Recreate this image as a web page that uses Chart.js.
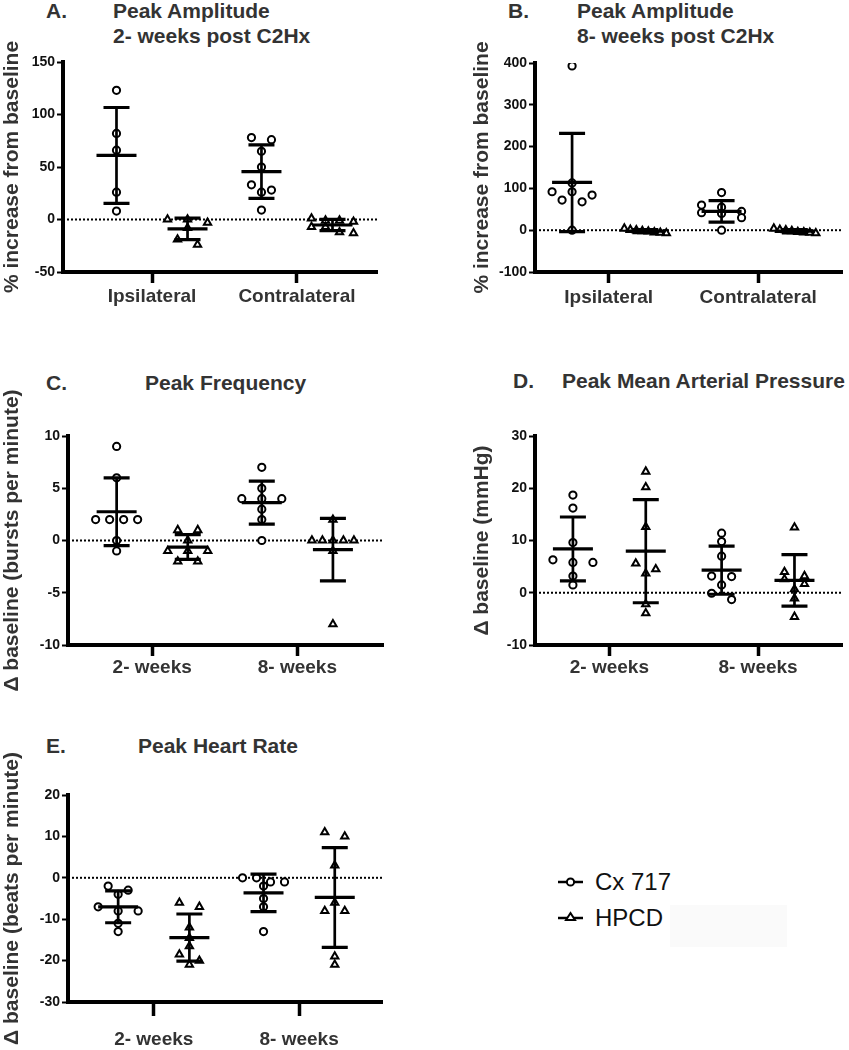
<!DOCTYPE html>
<html>
<head>
<meta charset="utf-8">
<script src="https://cdn.jsdelivr.net/npm/chart.js@4.4.0/dist/chart.umd.min.js"></script>
<style>
body { margin: 0; background: #fff; width: 849px; height: 1050px; position: relative; overflow: hidden;
       font-family: "Liberation Sans", Arial, sans-serif; }
canvas { position: absolute; }
.ttl { position: absolute; font-weight: bold; font-size: 21px; line-height: 1; color: #333; white-space: nowrap; }
.leg { position: absolute; font-size: 24px; line-height: 1; color: #111; white-space: nowrap; }
</style>
</head>
<body>

<div class="ttl" style="left:46px;top:0px">A.</div>
<div class="ttl" style="left:113px;top:0px">Peak Amplitude</div>
<div class="ttl" style="left:113px;top:25px">2- weeks post C2Hx</div>
<div class="ttl" style="left:508px;top:0px">B.</div>
<div class="ttl" style="left:577px;top:0px">Peak Amplitude</div>
<div class="ttl" style="left:577px;top:25px">8- weeks post C2Hx</div>
<div class="ttl" style="left:46px;top:372px">C.</div>
<div class="ttl" style="left:145px;top:372px">Peak Frequency</div>
<div class="ttl" style="left:513px;top:370px">D.</div>
<div class="ttl" style="left:562px;top:370px">Peak Mean Arterial Pressure</div>
<div class="ttl" style="left:46px;top:735px">E.</div>
<div class="ttl" style="left:138px;top:735px">Peak Heart Rate</div>

<canvas id="chartA" width="400" height="320" style="left:0px;top:0px"></canvas>
<canvas id="chartB" width="379" height="320" style="left:470px;top:0px"></canvas>
<canvas id="chartC" width="400" height="385" style="left:0px;top:330px"></canvas>
<canvas id="chartD" width="379" height="355" style="left:470px;top:330px"></canvas>
<canvas id="chartE" width="400" height="360" style="left:0px;top:690px"></canvas>

<!-- legend -->
<svg style="position:absolute;left:550px;top:868px" width="40" height="64">
  <line x1="8" y1="14" x2="33" y2="14" stroke="#000" stroke-width="2.5"/>
  <circle cx="20.5" cy="14" r="3.6" fill="#fff" stroke="#000" stroke-width="2"/>
  <line x1="8" y1="50" x2="33" y2="50" stroke="#000" stroke-width="2.5"/>
  <polygon points="20.5,45 25,52 16,52" fill="#fff" stroke="#000" stroke-width="2"/>
</svg>
<div class="leg" style="left:595px;top:870px">Cx 717</div>
<div class="leg" style="left:595px;top:906px">HPCD</div>
<div style="position:absolute;left:670px;top:905px;width:117px;height:42px;background:#fafafa"></div>

<script>
// A. peak amplitude 2 weeks post C2Hx (% increase from baseline)
var ampLabels = ['Ipsilateral', 'Contralateral'];
var amp2IpsiCx = [123, 82, 66, 26, 8];
var amp2IpsiHpcd = [0, 0, -3, -8, -19, -24];
var amp2ContraCx = [78, 76, 65, 50, 33, 28, 26, 9];
var amp2ContraHpcd = [1, -1, -1, -2, -7, -7, -12, -13];

// B. peak amplitude 8 weeks post C2Hx
var amp8IpsiCx = [393, 113, 92, 92, 84, 72, 68, 0];
var amp8IpsiHpcd = [4, 1, 0, -2, -3, -5, -7, -6];
var amp8ContraCx = [90, 60, 55, 45, 42, 40, 30, 0];
var amp8ContraHpcd = [4, 1, 0, -2, -4, -6, -7, -5];

// C. peak frequency (bursts per minute)
var weekLabels = ['2- weeks', '8- weeks'];
var freqWk2Cx = [9, 6, 2, 2, 2, 2, 0, -1];
var freqWk2Hpcd = [1, 1, 0, -1, -1, -1, -2, -2];
var freqWk8Cx = [7, 5, 4, 4, 4, 3, 2, 0];
var freqWk8Hpcd = [2, 0, 0, 0, 0, 0, -1, -8];

// D. peak mean arterial pressure (mmHg)
var mapWk2Cx = [18.7, 16.2, 9.6, 6.3, 5.8, 5.8, 3.2, 1.5];
var mapWk2Hpcd = [23.2, 20.2, 12.6, 5.6, 4.5, 3.7, -2.2, -3.9];
var mapWk8Cx = [11.4, 9.8, 7.0, 3.2, 3.1, 1.5, -0.1, -1.3];
var mapWk8Hpcd = [12.5, 4.0, 3.2, 2.6, 1.7, 0.7, -1.1, -4.6];

// E. peak heart rate (beats per minute)
var hrWk2Cx = [-2, -3, -4, -7, -8, -8, -11, -13];
var hrWk2Hpcd = [-6, -7, -12, -14.5, -16.5, -18.5, -20, -21];
var hrWk8Cx = [0, 0, -1, -1, -2, -5, -7, -13];
var hrWk8Hpcd = [11, 10, 3, -6, -8, -8, -19, -21];

var SHIFT = 0.245; // group offset from the category tick

function mean(v) {
    return v.reduce(function (a, b) { return a + b; }, 0) / v.length;
}
function sd(v) {
    var m = mean(v);
    var s = v.reduce(function (a, b) { return a + (b - m) * (b - m); }, 0);
    return Math.sqrt(s / (v.length - 1));
}

// spread points that sit on the same height, like a column scatter
var swarmPlugin = {
    id: 'swarm',
    afterDatasetsUpdate: function (chart) {
        chart.data.datasets.forEach(function (ds, di) {
            var pts = chart.getDatasetMeta(di).data.slice().sort(function (a, b) { return a.y - b.y; });
            var rows = [];
            pts.forEach(function (p) {
                var row = rows[rows.length - 1];
                if (row && p.y - row[0].y < 7) row.push(p);
                else rows.push([p]);
            });
            rows.forEach(function (row) {
                var n = row.length;
                var step = n > 3 ? 42 / (n - 1) : 20;
                row.forEach(function (p, k) { p.x += (k - (n - 1) / 2) * step; });
            });
        });
    }
};

// dotted baseline at zero
var zeroPlugin = {
    id: 'zero',
    beforeDatasetsDraw: function (chart) {
        var ctx = chart.ctx, a = chart.chartArea;
        var y = chart.scales.y.getPixelForValue(0);
        ctx.save();
        ctx.strokeStyle = '#000';
        ctx.lineWidth = 2;
        ctx.setLineDash([2, 2]);
        ctx.beginPath();
        ctx.moveTo(a.left, y);
        ctx.lineTo(a.right, y);
        ctx.stroke();
        ctx.restore();
    }
};

// mean with SD whiskers
var meanSdPlugin = {
    id: 'meanSd',
    afterDatasetsDraw: function (chart) {
        var ctx = chart.ctx, xs = chart.scales.x, ys = chart.scales.y;
        chart.data.datasets.forEach(function (ds) {
            var v = ds.data.map(function (p) { return p.y; });
            var m = mean(v), s = sd(v);
            var cx = xs.getPixelForValue(ds.data[0].x);
            var yTop = ys.getPixelForValue(m + s);
            var yBot = ys.getPixelForValue(m - s);
            var yMid = ys.getPixelForValue(m);
            ctx.save();
            ctx.strokeStyle = '#000';
            ctx.lineWidth = 2.7;
            ctx.beginPath();
            ctx.moveTo(cx, yTop); ctx.lineTo(cx, yBot);
            ctx.stroke();
            ctx.lineWidth = 3.2;
            ctx.beginPath();
            ctx.moveTo(cx - 13, yTop); ctx.lineTo(cx + 13, yTop);
            ctx.moveTo(cx - 13, yBot); ctx.lineTo(cx + 13, yBot);
            ctx.moveTo(cx - 20, yMid); ctx.lineTo(cx + 20, yMid);
            ctx.stroke();
            ctx.restore();
        });
    }
};

function series(values, x, style) {
    return {
        data: values.map(function (v) { return { x: x, y: v }; }),
        pointStyle: style,
        radius: style === 'triangle' ? 4.2 : 3.6,
        borderWidth: 2,
        borderColor: '#000',
        backgroundColor: '#fff'
    };
}

function makePanel(id, o) {
    var sets = [];
    o.cx.forEach(function (v, i) { sets.push(series(v, i + 1 - SHIFT, 'circle')); });
    o.hpcd.forEach(function (v, i) { sets.push(series(v, i + 1 + SHIFT, 'triangle')); });

    return new Chart(document.getElementById(id), {
        type: 'scatter',
        data: { datasets: sets },
        options: {
            responsive: false,
            animation: false,
            layout: { padding: { top: o.top, right: o.right, left: 0, bottom: 0 } },
            plugins: { legend: { display: false }, tooltip: { enabled: false } },
            scales: {
                x: {
                    type: 'linear',
                    min: o.xmin, max: o.xmax,
                    afterBuildTicks: function (s) { s.ticks = [{ value: 1 }, { value: 2 }]; },
                    afterFit: function (s) { s.height = o.xh; },
                    ticks: {
                        callback: function (v) { return o.labels[v - 1]; },
                        font: { family: 'Liberation Sans', size: 19, weight: 'bold' },
                        color: '#333', padding: o.xpad, maxRotation: 0, autoSkip: false
                    },
                    grid: { drawOnChartArea: false, tickLength: o.xtick, tickWidth: 3.5, color: '#000' },
                    border: { width: 4, color: '#000' }
                },
                y: {
                    min: o.ymin, max: o.ymax,
                    afterFit: function (s) { s.width = o.left; },
                    ticks: {
                        stepSize: o.step,
                        font: { family: 'Liberation Sans', size: 14, weight: 'bold' },
                        color: '#111', padding: 2
                    },
                    grid: { drawOnChartArea: false, tickLength: 6, tickWidth: 2, color: '#000' },
                    border: { width: 4, color: '#000' },
                    title: {
                        display: true, text: o.ytitle, color: '#333',
                        font: { family: 'Liberation Sans', size: 21, weight: 'bold' },
                        padding: { top: 0, bottom: 0 }
                    }
                }
            }
        },
        plugins: [swarmPlugin, zeroPlugin, meanSdPlugin]
    });
}

makePanel('chartA', {
    cx: [amp2IpsiCx, amp2ContraCx], hpcd: [amp2IpsiHpcd, amp2ContraHpcd], labels: ampLabels,
    ymin: -50, ymax: 150, step: 50, ytitle: '% increase from baseline',
    xmin: 0.386, xmax: 2.552, top: 62, right: 23, left: 63, xh: 48, xtick: 11, xpad: 2
});
makePanel('chartB', {
    cx: [amp8IpsiCx, amp8ContraCx], hpcd: [amp8IpsiHpcd, amp8ContraHpcd], labels: ampLabels,
    ymin: -100, ymax: 400, step: 100, ytitle: '% increase from baseline',
    xmin: 0.507, xmax: 2.566, top: 63, right: 1, left: 65, xh: 48, xtick: 11, xpad: 3
});
makePanel('chartC', {
    cx: [freqWk2Cx, freqWk8Cx], hpcd: [freqWk2Hpcd, freqWk8Hpcd], labels: weekLabels,
    ymin: -10, ymax: 10, step: 5, ytitle: '\u0394 baseline (bursts per minute)',
    xmin: 0.42, xmax: 2.59, top: 106, right: 17, left: 68, xh: 70, xtick: 11, xpad: 0
});
makePanel('chartD', {
    cx: [mapWk2Cx, mapWk8Cx], hpcd: [mapWk2Hpcd, mapWk8Hpcd], labels: weekLabels,
    ymin: -10, ymax: 30, step: 10, ytitle: '\u0394 baseline (mmHg)',
    xmin: 0.5, xmax: 2.57, top: 106, right: 0, left: 65, xh: 40, xtick: 11, xpad: 0
});
makePanel('chartE', {
    cx: [hrWk2Cx, hrWk8Cx], hpcd: [hrWk2Hpcd, hrWk8Hpcd], labels: weekLabels,
    ymin: -30, ymax: 20, step: 10, ytitle: '\u0394 baseline (beats per minute)',
    xmin: 0.41, xmax: 2.57, top: 105, right: 18, left: 68, xh: 48, xtick: 14, xpad: 12
});
</script>
</body>
</html>
